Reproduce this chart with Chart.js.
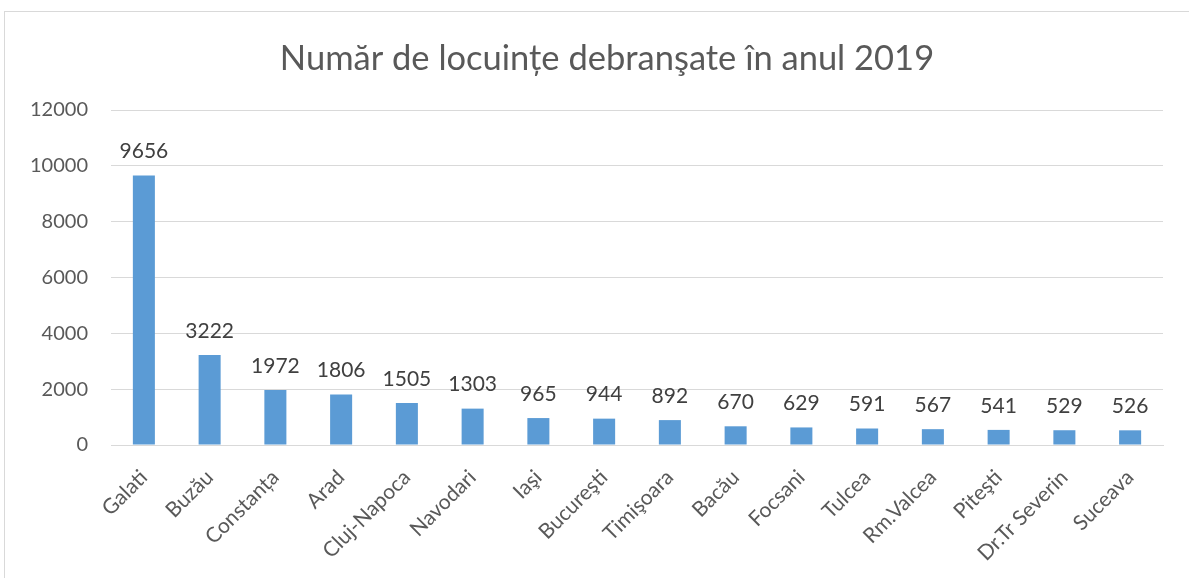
<!DOCTYPE html>
<html>
<head>
<meta charset="utf-8">
<script src="https://cdn.jsdelivr.net/npm/chart.js@4"></script>
<style>
  html, body { margin: 0; padding: 0; background: #fff; overflow: hidden; }
  #frame {
    position: absolute; left: 4px; top: 11px;
    width: 1300px; height: 700px;
    border: 1px solid #d9d9d9;
  }
  #wrap { position: absolute; left: 0; top: 0; width: 1189px; height: 578px; }
</style>
</head>
<body>
<div id="frame"></div>
<div id="wrap"><canvas id="debChart" width="1189" height="578"></canvas></div>
<script>
// Orase si numarul de locuinte debransate
const cities = [
  "Galati", "Buzău", "Constanța", "Arad", "Cluj-Napoca", "Navodari", "Iaşi",
  "Bucureşti", "Timişoara", "Bacău", "Focsani", "Tulcea", "Rm.Valcea",
  "Piteşti", "Dr.Tr Severin", "Suceava"
];
const counts = [9656, 3222, 1972, 1806, 1505, 1303, 965, 944, 892, 670, 629, 591, 567, 541, 529, 526];
const yTicks = [0, 2000, 4000, 6000, 8000, 10000, 12000];
const titleText = "Număr de locuințe debranşate în anul 2019";

const FONT = "Lato, 'Open Sans', sans-serif";

// value labels above each bar + title (Excel centers it on the whole frame, not the canvas)
const barValues = {
  id: "barValues",
  afterDatasetsDraw(chart) {
    const ctx = chart.ctx;
    const meta = chart.getDatasetMeta(0);
    ctx.save();
    ctx.font = "21px " + FONT;
    ctx.fillStyle = "#404040";
    ctx.textAlign = "center";
    ctx.textBaseline = "middle";
    meta.data.forEach((bar, i) => {
      ctx.fillText(String(counts[i]), bar.x, bar.y - 24);
    });
    ctx.font = "34.5px " + FONT;
    ctx.fillStyle = "#595959";
    ctx.textBaseline = "alphabetic";
    ctx.fillText(titleText, 607, 70);
    ctx.restore();
  }
};

const ctx = document.getElementById("debChart");
new Chart(ctx, {
  type: "bar",
  data: {
    labels: cities,
    datasets: [{
      data: counts,
      backgroundColor: "#5b9bd5",
      barPercentage: 0.335,
      categoryPercentage: 1
    }]
  },
  options: {
    responsive: false,
    animation: false,
    layout: { padding: { left: 0, right: 26, top: 110, bottom: 0 } },
    plugins: {
      legend: { display: false },
      tooltip: { enabled: false },
      title: { display: false }
    },
    scales: {
      x: {
        grid: { display: false, drawTicks: false },
        border: { color: "#d9d9d9", width: 1 },
        ticks: {
          color: "#595959",
          font: { family: FONT, size: 21 },
          maxRotation: 45,
          minRotation: 45,
          padding: 20,
          autoSkip: false
        },
        afterFit(axis) { axis.height = 133; }
      },
      y: {
        min: 0,
        max: 12000,
        afterBuildTicks(axis) { axis.ticks = yTicks.map(v => ({ value: v })); },
        grid: { color: "#d9d9d9", drawTicks: false },
        border: { display: false },
        ticks: {
          color: "#595959",
          font: { family: FONT, size: 20 },
          padding: 23,
          callback: (v) => String(v)
        },
        afterFit(axis) { axis.width = 111; }
      }
    }
  },
  plugins: [barValues]
});
</script>
</body>
</html>
